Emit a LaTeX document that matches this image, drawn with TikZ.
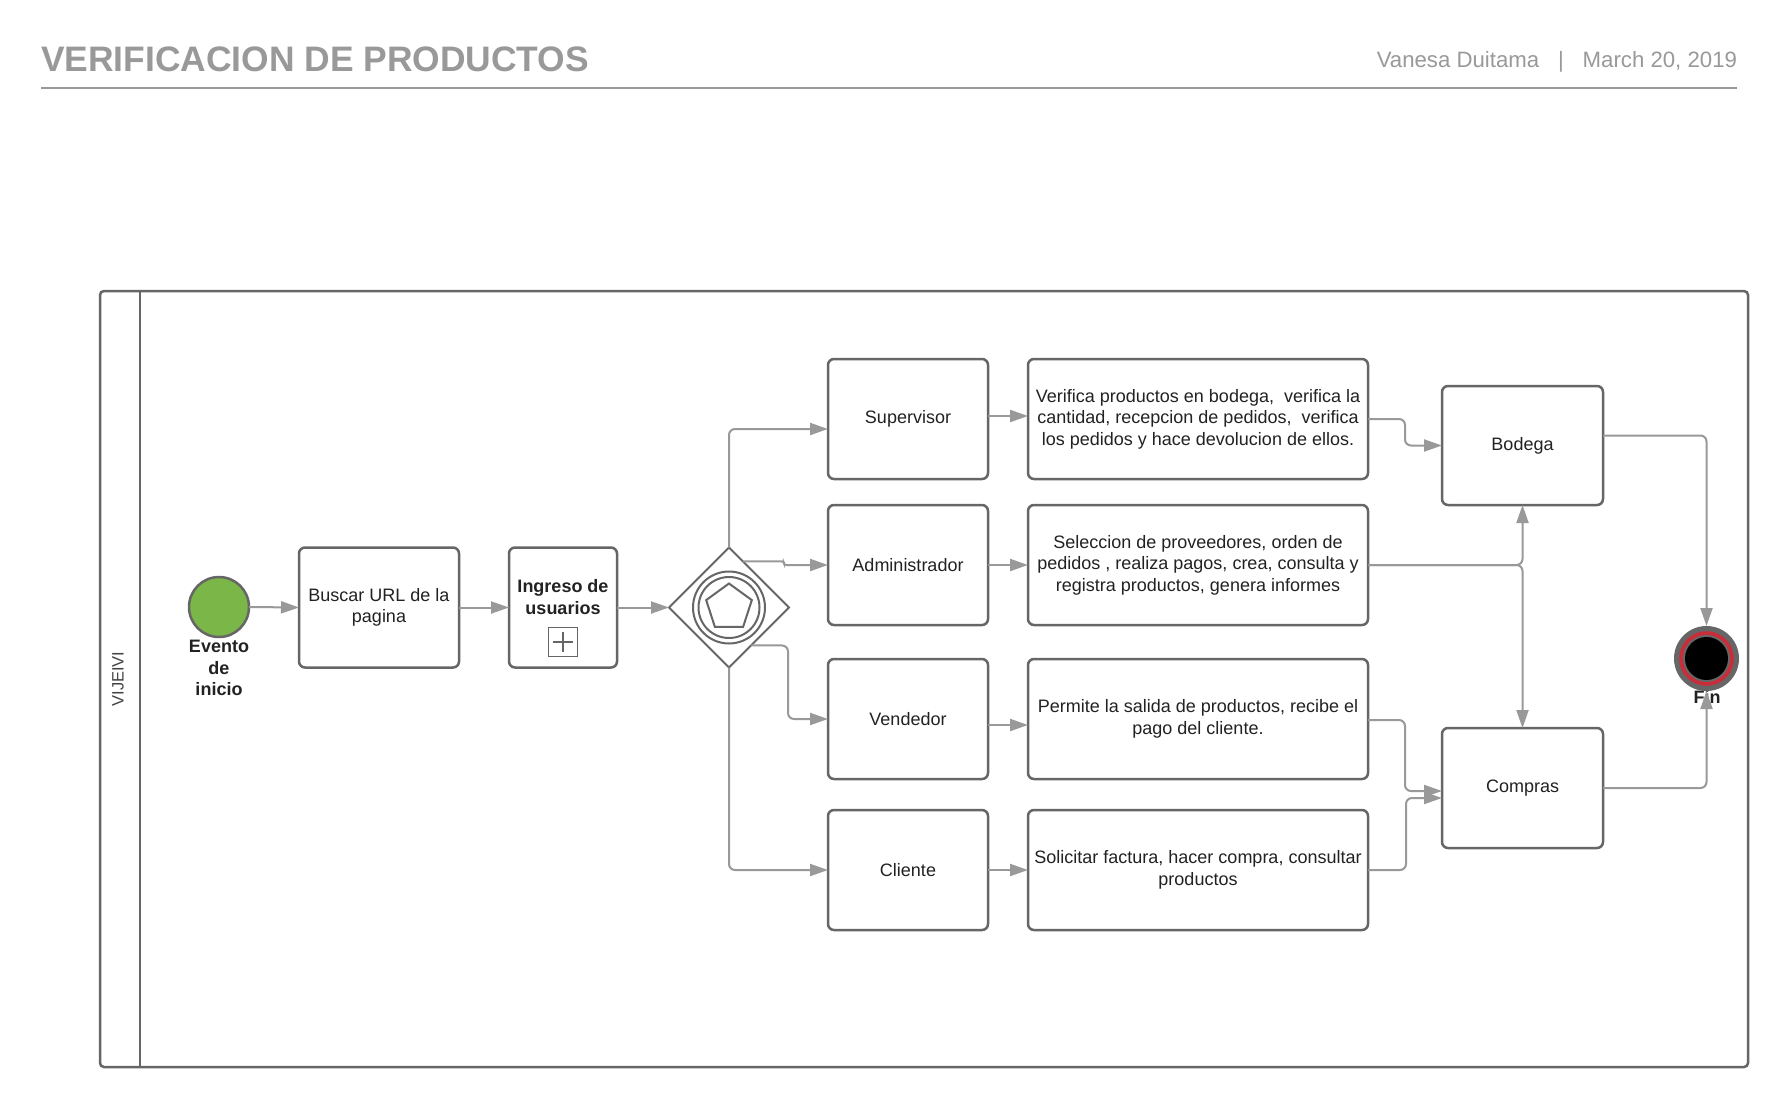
\documentclass[tikz,border=0pt]{standalone}
\usepackage{fontspec}
\setmainfont{Liberation Sans}
\usetikzlibrary{arrows.meta,shapes.geometric,calc}
\definecolor{boxline}{HTML}{666666}
\definecolor{conncol}{HTML}{999999}
\definecolor{hdrcol}{HTML}{999999}
\definecolor{txtcol}{HTML}{222222}
\definecolor{startgreen}{HTML}{7AB648}
\definecolor{endred}{HTML}{C92D39}
\begin{document}
\begin{tikzpicture}[x=0.5pt,y=-0.5pt,
  every node/.style={inner sep=0pt, outer sep=0pt, text=txtcol},
  txt/.style={font=\fontsize{9pt}{10.75pt}\selectfont, align=center},
  btxt/.style={font=\fontsize{9pt}{10.75pt}\selectfont\bfseries, align=center},
  taskbox/.style={draw=boxline, line width=1.25pt, rounded corners=3pt, fill=white,
     minimum width=80pt, minimum height=60pt, txt},
  descbox/.style={taskbox, minimum width=170pt},
  conn/.style={draw=conncol, line width=1pt, rounded corners=3pt,
     -{Triangle[length=9pt,width=6pt]}},
  ring/.style={circle, draw=boxline, line width=1pt}
]
\useasboundingbox[fill=white] (0,0) rectangle (1789,1108);

% header
\node[anchor=base west, text=hdrcol, font=\fontsize{17.7pt}{20pt}\selectfont\bfseries] (title) at (41,71) {VERIFICACION DE PRODUCTOS};
\node[anchor=base east, text=hdrcol, font=\fontsize{11.1pt}{13pt}\selectfont] (author) at (1737,68) {Vanesa Duitama\hspace{0.85em}|\hspace{0.85em}March 20, 2019};
\draw[draw=hdrcol, line width=1pt] (41,88) -- (1737,88);

% pool
\node[draw=boxline, line width=1.25pt, rounded corners=2pt, minimum width=824pt, minimum height=388pt] (pool) at (924,679) {};
\draw[draw=boxline, line width=1.25pt] ([xshift=20pt]pool.north west) -- ([xshift=20pt]pool.south west);
\node[rotate=90, text=txtcol!85!white, font=\fontsize{8.25pt}{10pt}\selectfont] (lane) at (118,679) {VIJEIVI};

% start event
\node[circle, draw=boxline, line width=1.25pt, fill=startgreen, minimum size=30pt] (start) at (219,607) {};
\node[btxt] (startlbl) at (219,668) {Evento\\de\\inicio};

% tasks
\node[taskbox] (buscar) at (379,607.5) {Buscar URL de la\\pagina};
\node[taskbox, minimum width=54pt] (ingreso) at (563,607.5) {};
\node[btxt] (ingresotxt) at (563,597) {Ingreso de\\usuarios};
\node[draw=boxline, line width=0.75pt, minimum size=14.5pt] (marker) at (563,642) {};
\draw[draw=boxline, line width=0.75pt] ([xshift=-5.2pt]marker.center) -- ([xshift=5.2pt]marker.center);
\draw[draw=boxline, line width=0.75pt] ([yshift=-5.2pt]marker.center) -- ([yshift=5.2pt]marker.center);

% gateway
\node[diamond, draw=boxline, line width=1pt, minimum width=60pt, minimum height=60pt, aspect=1, fill=white] (gw) at (729,607.5) {};
\node[ring, minimum size=36pt] (gwo) at (729,607.5) {};
\node[ring, minimum size=30.5pt] (gwi) at (729,607.5) {};
\node[regular polygon, regular polygon sides=5, draw=boxline, line width=1pt, minimum size=24pt] (gwp) at (729,607.5) {};
\coordinate (ga) at ($(gw.north)!0.233!(gw.east)$);
\coordinate (gv) at ($(gw.east)!0.633!(gw.south)$);

% roles
\node[taskbox] (supervisor) at (908,419) {Supervisor};
\node[taskbox] (admin) at (908,565) {Administrador};
\node[taskbox] (vendedor) at (908,719) {Vendedor};
\node[taskbox] (cliente) at (908,870) {Cliente};

% descriptions
\node[descbox] (desc1) at (1198,419) {Verifica productos en bodega, \ verifica la\\cantidad, recepcion de pedidos, \ verifica\\los pedidos y hace devolucion de ellos.};
\node[descbox] (desc2) at (1198,565) {Seleccion de proveedores, orden de\\pedidos , realiza pagos, crea, consulta y\\registra productos, genera informes};
\node[descbox] (desc3) at (1198,719) {Permite la salida de productos, recibe el\\pago del cliente.};
\node[descbox] (desc4) at (1198,870) {Solicitar factura, hacer compra, consultar\\productos};

% areas
\node[taskbox, minimum width=80.5pt, minimum height=59.5pt] (bodega) at (1522.5,445.5) {Bodega};
\node[taskbox, minimum width=80.5pt] (compras) at (1522.5,788) {Compras};

% end event
\node[btxt] (finlbl) at (1707,697) {Fin};
\node[circle, fill=boxline, minimum size=32.5pt] (fin) at (1706.5,658.5) {};
\node[circle, fill=endred, minimum size=27.3pt] (finred) at (fin.center) {};
\node[circle, fill=boxline, minimum size=23.5pt] (fingray) at (fin.center) {};
\node[circle, fill=black, minimum size=21.5pt] (finblack) at (fin.center) {};

% connectors
\draw[conn] (start.east) -- (buscar.west);
\draw[conn] (buscar.east) -- (ingreso.west);
\draw[conn] (ingreso.east) -- (gw.west);
\draw[conn] (gw.north) |- ([yshift=-5pt]supervisor.west);
\draw[conn, rounded corners=1pt] (ga) -- ++(41,0) |- (admin.west);
\draw[conn] (gv) -- ++(37,0) |- (vendedor.west);
\draw[conn] (gw.south) |- (cliente.west);
\draw[conn] ([yshift=1.5pt]supervisor.east) -- ([yshift=1.5pt]desc1.west);
\draw[conn] (admin.east) -- (desc2.west);
\draw[conn] ([yshift=-3pt]vendedor.east) -- ([yshift=-3pt]desc3.west);
\draw[conn] (cliente.east) -- (desc4.west);
\draw[conn] (desc1.east) -- ++(37,0) |- (bodega.west);
\draw[conn] (desc2.east) -| (bodega.south);
\draw[conn] (desc2.east) -| (compras.north);
\draw[conn] ([yshift=-0.5pt]desc3.east) -- ++(37,0) |- ([yshift=-1.5pt]compras.west);
\draw[conn] (desc4.east) -- ++(38,0) |- ([yshift=-5pt]compras.west);
\draw[conn] ([yshift=5pt]bodega.east) -| (fin.north);
\draw[conn] (compras.east) -| (fin.south);
\end{tikzpicture}
\end{document}
